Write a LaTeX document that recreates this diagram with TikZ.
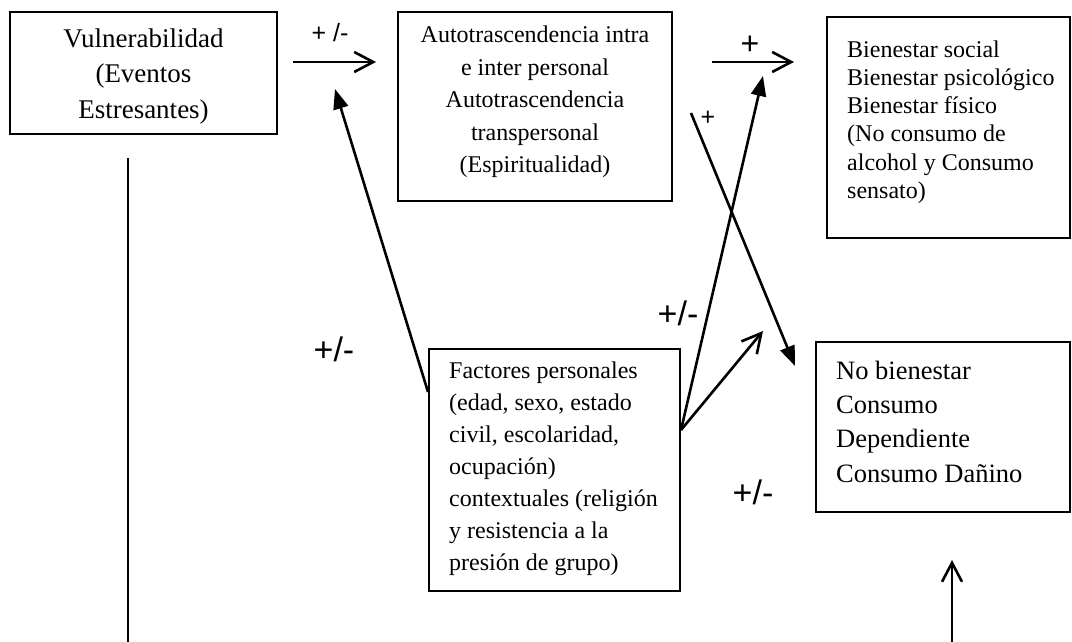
\documentclass[tikz,border=0pt]{standalone}
\usepackage{fontspec}
\setmainfont{Liberation Serif}
\newfontfamily\lsans{Liberation Sans}
\usetikzlibrary{arrows.meta}
\begin{document}
\begin{tikzpicture}[x=1pt,y=-1pt,
  box/.style={draw, line width=2pt, inner sep=0pt},
  txt/.style={inner sep=0pt},
  conn/.style={line width=2.6pt},
  openarr/.style={conn, -{Straight Barb[length=19pt,width=20pt]}},
  fillarr/.style={conn, -{Triangle[length=20pt,width=15pt]}},
  lbl/.style={inner sep=0pt, font=\lsans\fontsize{34}{34}\selectfont}
]
\useasboundingbox (0,0) rectangle (1072,642);

% boxes
\node[box, minimum width=267pt, minimum height=122pt] (vuln) at (143.5,73) {};
\node[box, minimum width=274pt, minimum height=189pt] (auto) at (535,106.5) {};
\node[box, minimum width=243pt, minimum height=221pt] (bien) at (948.5,127.5) {};
\node[box, minimum width=251pt, minimum height=242pt] (fact) at (554.5,470) {};
\node[box, minimum width=254pt, minimum height=170pt] (nob) at (943,427) {};

% texts
\node[txt, align=center, font=\fontsize{27}{35.5}\selectfont] (vulnt) at (143.5,76.5)
  {Vulnerabilidad\\(Eventos\\Estresantes)};
\node[txt, align=center, font=\fontsize{24}{32.5}\selectfont] (autot) at (535,102)
  {Autotrascendencia intra\\e inter personal\\Autotrascendencia\\transpersonal\\(Espiritualidad)};
\node[txt, align=left, anchor=west, font=\fontsize{24}{28.2}\selectfont] (bient) at (847,122)
  {Bienestar social\\Bienestar psicológico\\Bienestar físico\\(No consumo de\\alcohol y Consumo\\sensato)};
\node[txt, align=left, anchor=west, font=\fontsize{24}{32}\selectfont] (factt) at (449,469)
  {Factores personales\\(edad, sexo, estado\\civil, escolaridad,\\ocupación)\\contextuales (religión\\y resistencia a la\\presión de grupo)};
\node[txt, align=left, anchor=west, font=\fontsize{26.5}{34.3}\selectfont] (nobt) at (836,421.5)
  {No bienestar\\Consumo\\Dependiente\\Consumo Dañino};

% free ends
\coordinate (a1s) at (293,62);
\coordinate (a1e) at (376,62);
\coordinate (a2s) at (712,62);
\coordinate (a2e) at (794,62);
\coordinate (t1) at (335,89);
\coordinate (t2) at (763,76);
\coordinate (t3) at (763,331);
\coordinate (c1) at (691,113);
\coordinate (c2) at (795,366);
\coordinate (vl1) at (128,158);
\coordinate (vl2) at (128,642);
\coordinate (ba1) at (952,642);
\coordinate (ba2) at (952,560);

% connectors
\draw[openarr] (a1s) -- (a1e);
\draw[openarr] (a2s) -- (a2e);
\draw[fillarr] ([yshift=78pt]fact.west) -- (t1);
\draw[fillarr] ([yshift=40pt]fact.east) -- (t2);
\draw[openarr] ([yshift=40pt]fact.east) -- (t3);
\draw[fillarr] (c1) -- (c2);
\draw[conn] (vl1) -- (vl2);
\draw[openarr] (ba1) -- (ba2);

% labels
\node[lbl, font=\lsans\fontsize{25}{25}\selectfont] (l1) at (330,33) {+ /-};
\node[lbl, font=\lsans\fontsize{32}{32}\selectfont] (l2) at (750,45) {+};
\node[lbl, font=\lsans\fontsize{25}{25}\selectfont] (l3) at (708,118) {+};
\node[lbl] (l4) at (334,349) {+/-};
\node[lbl] (l5) at (678,313) {+/-};
\node[lbl] (l6) at (753,492) {+/-};
\end{tikzpicture}
\end{document}
